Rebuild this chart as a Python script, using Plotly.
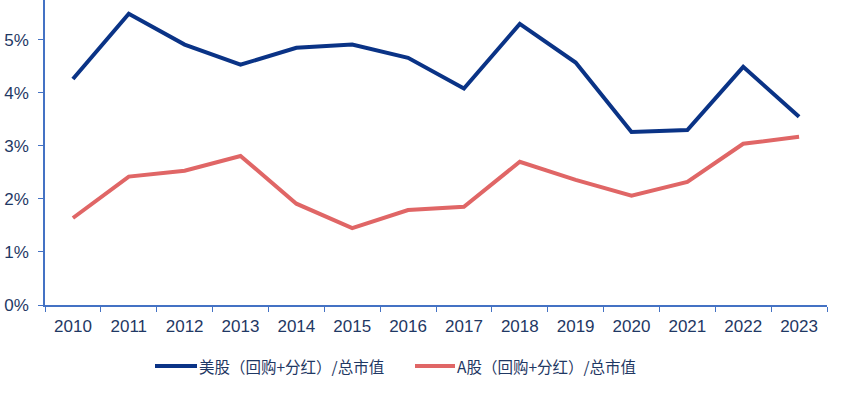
import plotly.graph_objects as go

years = [str(y) for y in range(2010, 2024)]
us_ratio = [4.26, 5.49, 4.91, 4.53, 4.85, 4.91, 4.66, 4.08, 5.30, 4.57, 3.26, 3.30, 4.49, 3.55]
a_ratio = [1.64, 2.42, 2.53, 2.81, 1.91, 1.45, 1.79, 1.85, 2.70, 2.36, 2.06, 2.32, 3.04, 3.17]
y_ticks = [0, 1, 2, 3, 4, 5]
series_names = ["美股（回购+分红）/总市值", "A股（回购+分红）/总市值"]
series_colors = ["#0A3386", "#E06666"]

axis_color = "#4472C4"
text_color = "#1F3864"

W, H = 855, 393
ML, MR, MT, MB = 45, 28, 0, 88
PW, PH = W - ML - MR, H - MT - MB

def px_x(px):
    return (px - ML) / PW

def px_y(py):
    return (H - MB - py) / PH

fig = go.Figure()
for name, vals, col in zip(series_names, [us_ratio, a_ratio], series_colors):
    fig.add_trace(go.Scatter(x=years, y=vals, mode="lines", name=name,
                             line=dict(color=col, width=4)))

# manual legend (line sample directly followed by text)
legend_pos = [(155, 197), (415, 455)]
for (x0, x1), name, col in zip(legend_pos, series_names, series_colors):
    fig.add_shape(type="line", xref="paper", yref="paper",
                  x0=px_x(x0), x1=px_x(x1), y0=px_y(366), y1=px_y(366),
                  line=dict(color=col, width=4))
    fig.add_annotation(xref="paper", yref="paper", x=px_x(x1), y=px_y(366),
                       xanchor="left", yanchor="middle", text=name, showarrow=False,
                       font=dict(size=15.5, color=text_color,
                                 family="Noto Sans CJK SC, Liberation Sans"))

fig.update_layout(
    width=W, height=H,
    margin=dict(l=ML, r=MR, t=MT, b=MB),
    plot_bgcolor="white", paper_bgcolor="white",
    font=dict(family="Liberation Sans, Arial, Noto Sans CJK SC", size=17, color=text_color),
    showlegend=False,
    xaxis=dict(type="category", showgrid=False, showline=True, linecolor=axis_color, linewidth=1.5,
               ticks="outside", tickcolor=axis_color, ticklen=5, tickson="boundaries",
               range=[-0.5, 13.5], tickfont=dict(size=17, color=text_color),
               ticklabelstandoff=5),
    yaxis=dict(range=[0, 5.75], tickvals=y_ticks, ticktext=[f"{v}%" for v in y_ticks],
               showgrid=False, showline=True, linecolor=axis_color, linewidth=1.5,
               ticks="outside", tickcolor=axis_color, ticklen=5,
               tickfont=dict(size=17, color=text_color), zeroline=False,
               ticklabelstandoff=6),
)

fig.write_html("out.html", config={"displayModeBar": False},
               post_script="document.body.style.margin='0';")
